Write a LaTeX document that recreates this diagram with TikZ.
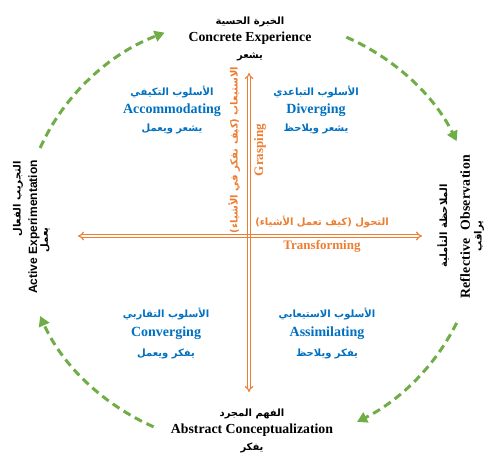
\documentclass[tikz,border=0pt]{standalone}
\usepackage{fontspec}
\setmainfont{Liberation Serif}
\newfontfamily\arabicfont[Script=Arabic]{DejaVu Sans}
\newfontfamily\arialfont{Liberation Sans}
\newfontfamily\wideserif[LetterSpace=2]{Liberation Serif}
\TeXXeTstate=1
\usetikzlibrary{arrows.meta}
\definecolor{klgreen}{HTML}{70AD47}
\definecolor{klorange}{HTML}{ED7D31}
\definecolor{klblue}{HTML}{0070C0}
\newcommand\artxt[1]{{\arabicfont\bfseries\fontsize{10}{12}\selectfont\beginR #1\endR}}
\tikzset{
  cyc/.style={draw=klgreen, line width=3pt, dash pattern=on 8pt off 5pt, -{Triangle[length=10pt,width=11pt]}},
  axis/.style={draw=klorange, line width=1.1pt, double=white, double distance=1.8pt, {Implies}-{Implies}},
  side/.style={align=center, inner sep=0pt, font=\bfseries\fontsize{13.8}{17}\selectfont},
  mode/.style={side, text=klblue, font=\bfseries\fontsize{14}{17.5}\selectfont},
  axlbl/.style={inner sep=0pt, text=klorange, font=\bfseries\fontsize{13}{15}\selectfont},
}
\begin{document}
\begin{tikzpicture}[x=1pt,y=1pt]
  \useasboundingbox (0,0) rectangle (486,453);
  % cycle arrows
  \coordinate (ce) at (250,221);
  \path (ce) ++(157:228 and 215) coordinate (c1)
        (ce) ++(65:228 and 215) coordinate (c2)
        (ce) ++(-25:228 and 215) coordinate (c3)
        (ce) ++(245:228 and 215) coordinate (c4);
  \draw[cyc] (c1) arc[start angle=157, end angle=112, x radius=228, y radius=215];
  \draw[cyc] (c2) arc[start angle=65, end angle=25, x radius=228, y radius=215];
  \draw[cyc] (c3) arc[start angle=-25, end angle=-62, x radius=228, y radius=215];
  \draw[cyc] (c4) arc[start angle=245, end angle=203, x radius=228, y radius=215];
  % axes
  \coordinate (vtop) at (249,380);
  \coordinate (vbot) at (249,61);
  \coordinate (hlft) at (78,217);
  \coordinate (hrgt) at (422,217);
  \draw[axis] (vbot) -- (vtop);
  \draw[axis] (hlft) -- (hrgt);
  \coordinate (xc) at (vbot |- hlft);
  \draw[klorange, line width=1.1pt] ([shift={(-1.45,-3)}]xc) -- ([shift={(-1.45,3)}]xc)
                                    ([shift={(1.45,-3)}]xc) -- ([shift={(1.45,3)}]xc);
  \node[axlbl, rotate=90] (grasp) at (260,303) {Grasping};
  \node[axlbl, rotate=90] (graspar) at (234,303) {\artxt{الاستيعاب (كيف نفكر في الأشياء)}};
  \node[axlbl] (transar) at (322,231) {\artxt{التحول (كيف تعمل الأشياء)}};
  \node[axlbl] (trans) at (322,207) {Transforming};
  % stages
  \node[side] (conc) at (250,414) {\artxt{الخبرة الحسية}\\Concrete Experience\\\artxt{يشعر}};
  \node[side] (abst) at (252,22) {\artxt{الفهم المجرد}\\Abstract Conceptualization\\\artxt{يفكر}};
  \node[side, rotate=90] (actvar) at (18,254) {\artxt{التجريب الفعال}};
  \node[side, rotate=90, font=\arialfont\bfseries\fontsize{12}{16}\selectfont] (actv) at (34,226) {Active Experimentation};
  \node[side, rotate=90] (actvdo) at (45,213) {\artxt{يعمل}};
  \node[side, rotate=90] (reflar) at (443,227) {\artxt{الملاحظة التأملية}};
  \node[side, rotate=90] (refl) at (465,226) {\wideserif Reflective\ \ Observation};
  \node[side, rotate=90] (refldo) at (479,217) {\artxt{يراقب}};
  % learning styles
  \node[mode] (accom) at (172,343) {\artxt{الأسلوب التكيفي}\\Accommodating\\\artxt{يشعر ويعمل}};
  \node[mode] (diver) at (316,343) {\artxt{الأسلوب التباعدي}\\Diverging\\\artxt{يشعر ويلاحظ}};
  \node[mode] (conv) at (166,120) {\artxt{الأسلوب التقاربي}\\[2pt]Converging\\[2pt]\artxt{يفكر ويعمل}};
  \node[mode] (assim) at (327,120) {\artxt{الأسلوب الاستيعابي}\\[2pt]Assimilating\\[2pt]\artxt{يفكر ويلاحظ}};
\end{tikzpicture}
\end{document}
